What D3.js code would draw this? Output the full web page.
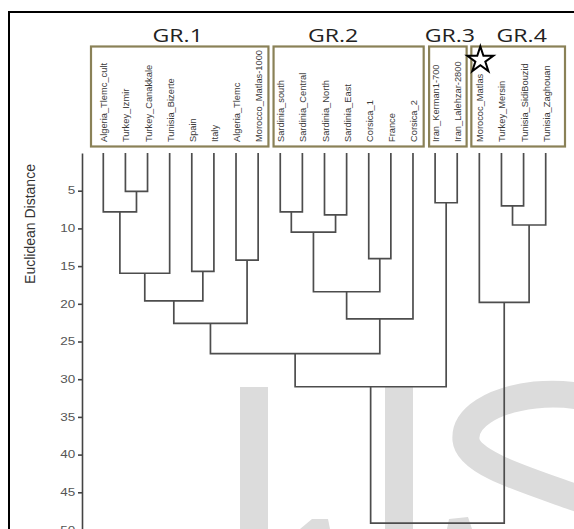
<!DOCTYPE html>
<html>
<head>
<meta charset="utf-8">
<script src="https://cdn.jsdelivr.net/npm/d3@7"></script>
<style>
  html, body { margin: 0; padding: 0; background: #fff; }
  svg { display: block; }
</style>
</head>
<body>
<div id="chart"></div>
<script>
// Leaf populations, left to right
const leaves = [
  "Algeria_Tlemc_cult", "Turkey_Izmir", "Turkey_Canakkale", "Tunisia_Bizerte",
  "Spain", "Italy", "Algeria_Tlemc", "Morocco_Matlas-1000",
  "Sardinia_south", "Sardinia_Central", "Sardinia_North", "Sardinia_East",
  "Corsica_1", "France", "Corsica_2",
  "Iran_Kerman1-700", "Iran_Lalehzar-2800",
  "Morococ_Matlas", "Turkey_Mersin", "Tunisia_SidiBouzid", "Tunisia_Zaghouan"
];

// Agglomeration steps: node (leaves.length + i) joins mergeA[i] and mergeB[i] at mergeDist[i]
const mergeA    = [1,   0,   3,     4,    23,   6,    25,   8,   10,  28,   12,   30,   32,   15,  18,  35,   17,   27,   38,   39];
const mergeB    = [2,   21,  22,    5,    24,   7,    26,   9,   11,  29,   13,   31,   14,   16,  19,  20,   36,   33,   34,   37];
const mergeDist = [5.1, 7.8, 15.95, 15.7, 19.6, 14.2, 22.6, 7.8, 8.2, 10.5, 14.0, 18.4, 22.0, 6.6, 7.0, 9.55, 19.8, 26.6, 31.0, 49.1];

// Axis ticks
const tickValues = [5, 10, 15, 20, 25, 30, 35, 40, 45, 50];

// Cluster groups (first and last leaf index)
const groupNames = ["GR.1", "GR.2", "GR.3", "GR.4"];
const groupFirst = [0, 8, 15, 17];
const groupLast  = [7, 14, 16, 20];
const markedLeaf = "Morococ_Matlas";

const W = 574, H = 529;
const svg = d3.select("#chart").append("svg")
  .attr("width", W).attr("height", H)
  .attr("font-family", "'Liberation Sans', Arial, sans-serif");

svg.append("rect").attr("width", W).attr("height", H).attr("fill", "#fff");

// faint background lettering
const wm = svg.append("g").attr("fill", "#dcdcdc");
wm.append("rect").attr("x", 240).attr("y", 387).attr("width", 28).attr("height", 150);
wm.append("rect").attr("x", 385).attr("y", 387).attr("width", 28).attr("height", 150);
wm.append("path")
  .attr("fill", "none").attr("stroke", "#dcdcdc").attr("stroke-width", 27)
  .attr("d", "M640,420 C600,395 565,392 535,395 C492,400 464,418 466,440 C468,462 520,478 574,497 C605,508 625,520 640,540");
wm.append("path").attr("d", "M300,529 L312,519 L328,519 L330,529 Z");
wm.append("path").attr("d", "M447,529 L449,519 L468,517 L472,529 Z");

// outer frame
svg.append("path")
  .attr("d", `M9,${H} V12 H${W}`)
  .attr("fill", "none").attr("stroke", "#000").attr("stroke-width", 2);

// scales
const x = d3.scalePoint().domain(leaves).range([103.3, 545.7]);
const y = d3.scaleLinear().domain([0, 50]).range([153, 530]);

// node positions
const nodeX = leaves.map(d => x(d));
const nodeH = leaves.map(() => 0);
mergeA.forEach((a, i) => {
  const b = mergeB[i];
  nodeX.push((nodeX[a] + nodeX[b]) / 2);
  nodeH.push(mergeDist[i]);
});

// elbow connectors
const links = svg.append("g")
  .attr("fill", "none").attr("stroke", "#4d4d4d").attr("stroke-width", 1.7)
  .attr("stroke-linejoin", "miter");
links.selectAll("path")
  .data(mergeA.map((a, i) => ({ a, b: mergeB[i], h: mergeDist[i] })))
  .join("path")
  .attr("d", d => `M${nodeX[d.a]},${y(nodeH[d.a])} V${y(d.h)} H${nodeX[d.b]} V${y(nodeH[d.b])}`);

// axis
const axis = d3.axisLeft(y).tickValues(tickValues).tickSize(4).tickSizeOuter(0).tickPadding(2);
const ag = svg.append("g").attr("transform", "translate(82,0)").call(axis);
ag.select(".domain").attr("stroke", "#444").attr("stroke-width", 1.6);
ag.selectAll(".tick line").attr("stroke", "#444").attr("stroke-width", 1.6);
ag.selectAll(".tick text")
  .attr("fill", "#555").attr("font-size", 10)
  .attr("font-family", "'Liberation Sans', Arial, sans-serif")
  .attr("transform", "scale(1.35,1)")
  .attr("x", -6 / 1.35 - 0.5);

svg.append("text")
  .attr("transform", "translate(35,224) rotate(-90)")
  .attr("text-anchor", "middle")
  .attr("font-size", 14).attr("fill", "#333")
  .text("Euclidean Distance");

// group boxes
const padL = [12.3, 6.7, 6, 8];
const padR = [10.3, 10.7, 9.4, 19.3];
const labelShift = [-2, -15.5, 2, 3.5];
const boxes = svg.append("g");
groupNames.forEach((g, i) => {
  const x0 = x(leaves[groupFirst[i]]) - padL[i];
  const x1 = x(leaves[groupLast[i]]) + padR[i];
  boxes.append("rect")
    .attr("x", x0).attr("y", 46.5)
    .attr("width", x1 - x0).attr("height", 100)
    .attr("fill", "none").attr("stroke", "#8a8157").attr("stroke-width", 2.2);
  const cx = (x0 + x1) / 2 + labelShift[i];
  boxes.append("text")
    .attr("transform", `translate(${cx},42) scale(1.25,1)`)
    .attr("text-anchor", "middle")
    .attr("font-family", "'Open Sans', 'DejaVu Sans', sans-serif")
    .attr("font-size", 18.5).attr("fill", "#222")
    .text(g);
});

// leaf labels, reading upward from the box floor
svg.append("g").selectAll("text")
  .data(leaves)
  .join("text")
  .attr("transform", d => `translate(${x(d) + 1},142) rotate(-90)`)
  .attr("text-anchor", "start")
  .attr("dominant-baseline", "central")
  .attr("font-size", 9.3).attr("fill", "#3a3a3a")
  .text(d => d);

// star marking one population
const star = d3.symbol().type(d3.symbolStar).size(210);
svg.append("path")
  .attr("d", star())
  .attr("transform", `translate(${x(markedLeaf) + 1},60)`)
  .attr("fill", "#fff").attr("stroke", "#000").attr("stroke-width", 2);
</script>
</body>
</html>
